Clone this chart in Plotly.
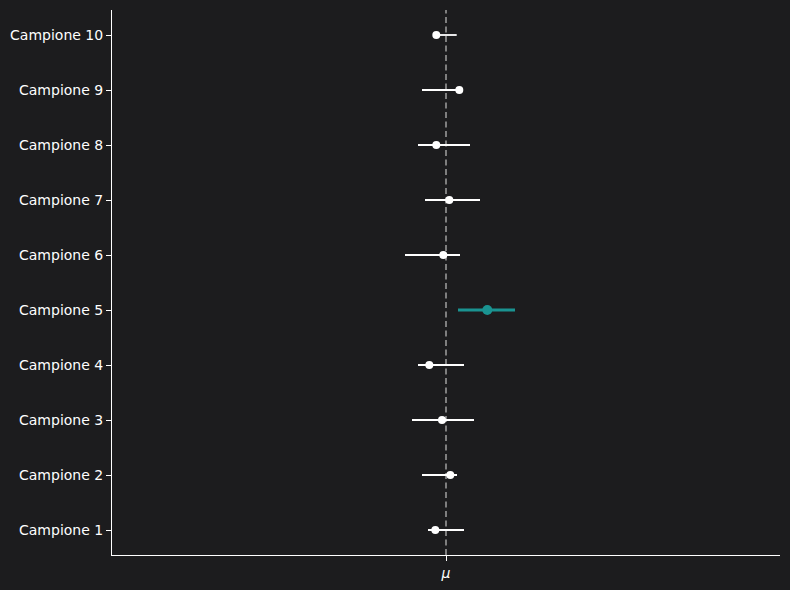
import plotly.graph_objects as go

categories = [f"Campione {i}" for i in range(1, 11)]
means = [-0.107, 0.043, -0.04, -0.167, 0.413, -0.027, 0.033, -0.097, 0.133, -0.097]
ci_low = [-0.18, -0.24, -0.34, -0.28, 0.12, -0.41, -0.21, -0.28, -0.24, -0.13]
ci_high = [0.18, 0.11, 0.28, 0.18, 0.69, 0.14, 0.34, 0.24, 0.14, 0.107]
mu = 0.0
highlight = "Campione 5"

bg = "#1c1c1e"
teal = "#1a9391"
fg = "#ffffff"

fig = go.Figure()

fig.add_vline(x=mu, line=dict(color="#8a8a8a", width=1.8, dash="6px,3.5px"), layer="below")

for c, m, lo, hi in zip(categories, means, ci_low, ci_high):
    hl = c == highlight
    col = teal if hl else fg
    fig.add_trace(go.Scatter(
        x=[lo, hi], y=[c, c], mode="lines",
        line=dict(color=col, width=3 if hl else 1.8),
        showlegend=False, hoverinfo="skip"))
    fig.add_trace(go.Scatter(
        x=[m], y=[c], mode="markers",
        marker=dict(color=col, size=10 if hl else 8, line=dict(width=0)),
        showlegend=False))

fig.update_layout(
    width=790, height=590,
    margin=dict(l=112, r=10, t=10, b=35),
    paper_bgcolor=bg, plot_bgcolor=bg,
    font=dict(family="DejaVu Sans", size=14, color=fg),
    xaxis=dict(range=[-3.34, 3.34], tickvals=[mu], ticktext=["<i>μ</i>"],
               showgrid=False, zeroline=False, showline=True, linecolor=fg,
               linewidth=1, ticks="outside", ticklen=5, tickcolor=fg,
               tickfont=dict(size=14, color=fg)),
    yaxis=dict(categoryorder="array", categoryarray=categories,
               range=[-0.4545, 9.4545],
               showgrid=False, zeroline=False, showline=True, linecolor=fg,
               linewidth=1, ticks="outside", ticklen=5, tickcolor=fg,
               tickfont=dict(size=14, color=fg)),
)

fig.write_html("out.html")
